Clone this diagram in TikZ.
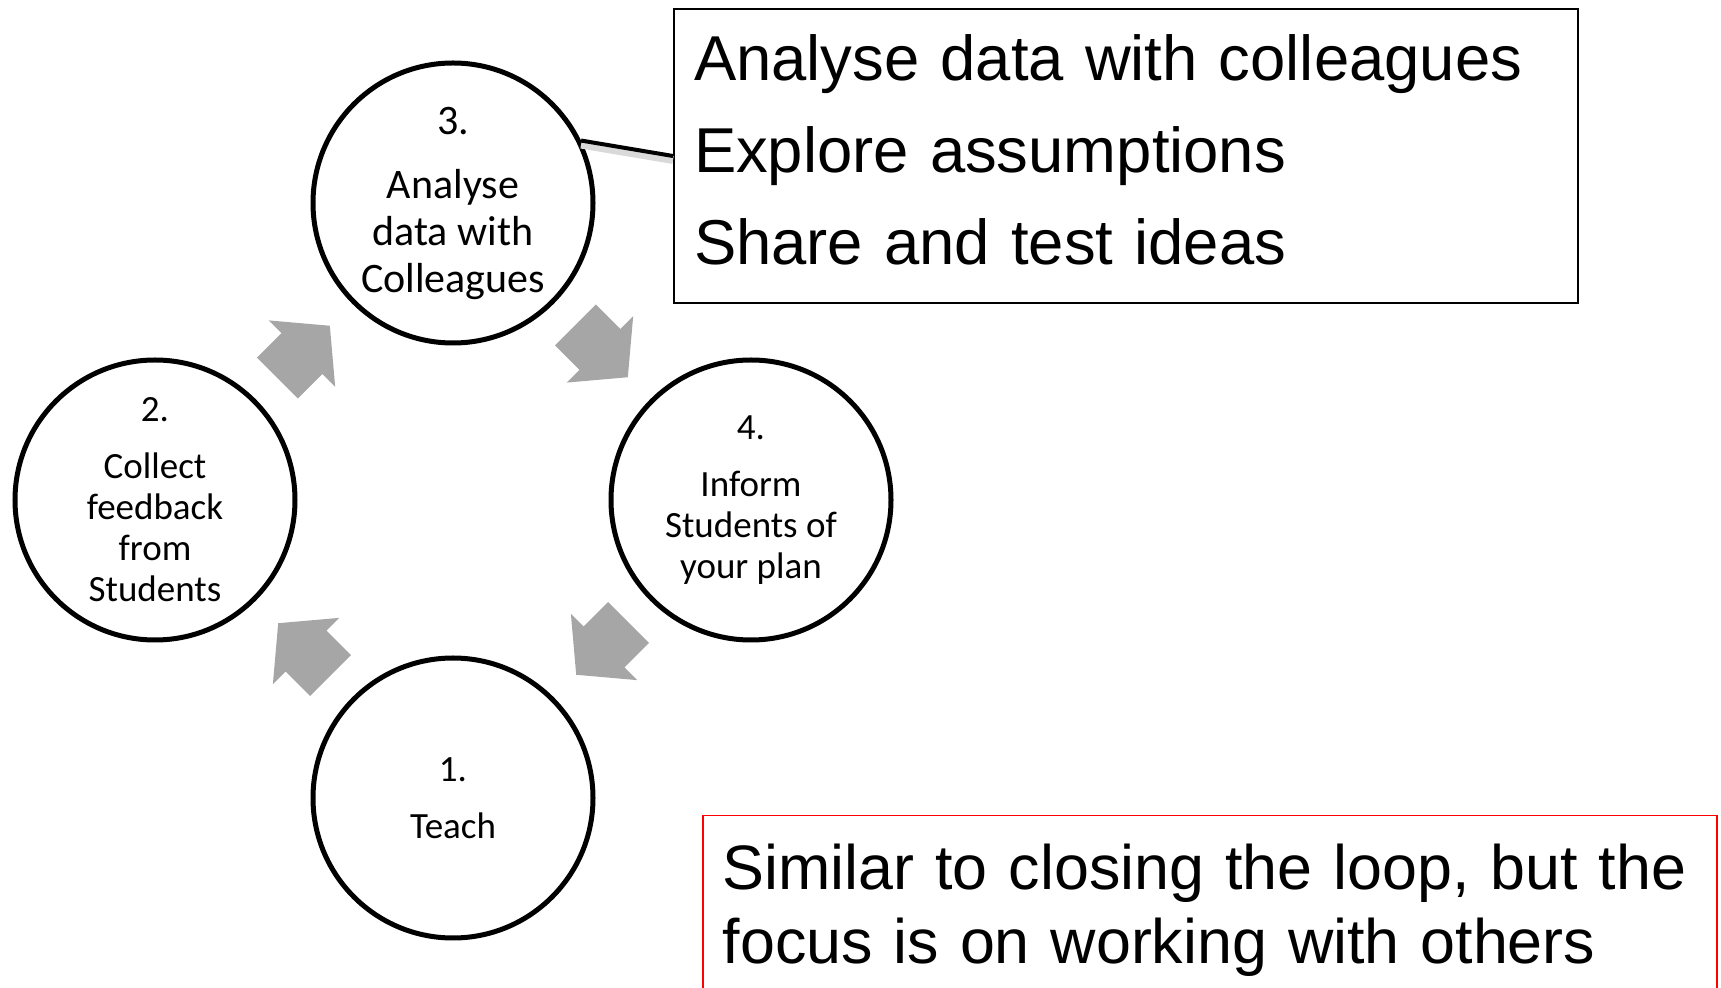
\documentclass[tikz,border=0pt]{standalone}
\usepackage{fontspec}
\setmainfont{Carlito}
\newfontfamily\boxfont{Liberation Sans}
\usetikzlibrary{shapes.arrows, calc}
\definecolor{arrowgray}{RGB}{166,166,166}
\definecolor{noteRed}{RGB}{255,0,0}
\tikzset{%
  stage/.style={circle, draw, line width=2.5pt, minimum size=140pt, inner sep=0pt,
                align=center, font=\fontsize{18.5}{20.5}\selectfont},
  flow/.style={single arrow, fill=arrowgray, draw=none, inner xsep=0pt, inner ysep=14.25pt,
               minimum height=37pt, minimum width=46.5pt, anchor=tip,
               single arrow head extend=9pt, single arrow tip angle=100},
  note/.style={draw, anchor=north west, align=left, font=\boxfont\fontsize{31.7}{46}\selectfont},
}

\begin{document}
\begin{tikzpicture}[x=0.5pt, y=-0.5pt]
    \useasboundingbox (0,0) rectangle (1721,988);

    % the four stages
    \node[stage] (c1) at (453,798) {1.\\[8pt]Teach};
    \node[stage] (c2) at (155,500) {2.\\[8pt]Collect\\feedback\\from\\Students};
    \node[stage, font=\fontsize{21}{23.5}\selectfont] (c3) at (453,203) {3.\\[8.5pt]Analyse\\data with\\Colleagues};
    \node[stage] (c4) at (751,500) {4.\\[8pt]Inform\\Students of\\your plan};

    % block arrows between the stages (tip placed past the midpoint)
    \node[flow, rotate=135]  (a12) at ($(c1)!0.5!(c2)!18.5pt!(c2)$) {};
    \node[flow, rotate=45]   (a23) at ($(c2)!0.5!(c3)!18.5pt!(c3)$) {};
    \node[flow, rotate=-45]  (a34) at ($(c3)!0.5!(c4)!18.5pt!(c4)$) {};
    \node[flow, rotate=-135] (a41) at ($(c4)!0.5!(c1)!18.5pt!(c1)$) {};

    % notes
    \node[note, line width=1pt, minimum height=147pt, text width=432pt, inner xsep=10pt] (ideas) at (673,8)
          {Analyse data with colleagues\\Explore assumptions\\Share and test ideas\rule[-6pt]{0pt}{6pt}};
    \node[note, draw=noteRed, line width=0.75pt, text width=487pt, inner xsep=10pt, inner ysep=14pt,
          font=\boxfont\fontsize{31.4}{37.3}\selectfont] (focus) at (702,815)
          {Similar to closing the loop, but the\\focus is on working with others};

    % callout
    \draw[black!15, line width=4pt, transform canvas={yshift=-2pt}] (c3.26) -- (ideas.west);
    \draw[line width=2pt] (c3.26) -- (ideas.west);
\end{tikzpicture}
\end{document}
